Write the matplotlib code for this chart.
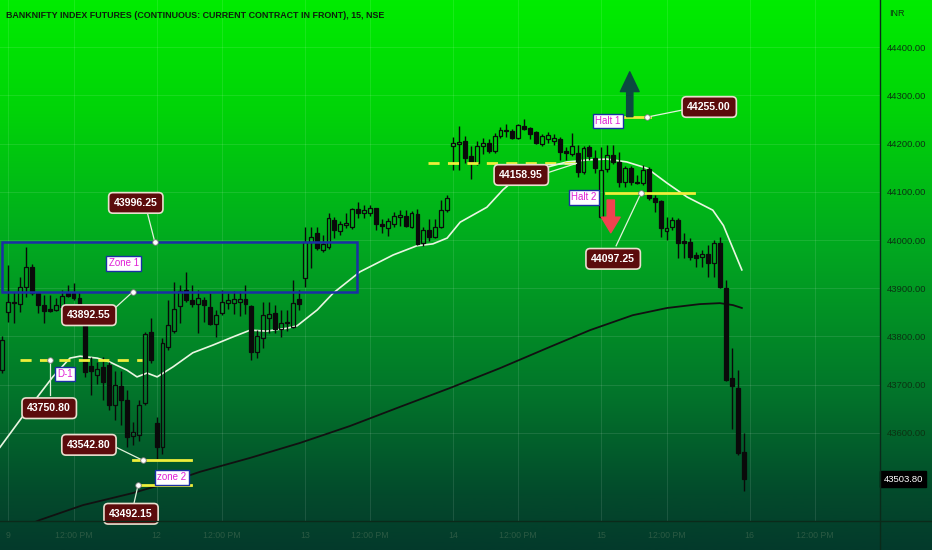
import matplotlib
matplotlib.use('Agg')
import matplotlib.pyplot as plt
from matplotlib.colors import LinearSegmentedColormap
from matplotlib.patches import Rectangle
import matplotlib.transforms as mtransforms
import numpy as np

title = 'BANKNIFTY INDEX FUTURES (CONTINUOUS: CURRENT CONTRACT IN FRONT), 15, NSE'

# 15 minute bars, bar 0 = 9th 09:15, 25 bars per session
first_bar = -1
opens = [43730, 43851, 43869, 43867, 43902, 43944, 43890, 43865, 43857, 43855,
         43861, 43890, 43890, 43880, 43828, 43738, 43720, 43736, 43740, 43658,
         43697, 43668, 43593, 43595, 43662, 43809, 43620, 43570, 43778, 43811,
         43863, 43896, 43876, 43867, 43876, 43861, 43826, 43849, 43869, 43869,
         43871, 43878, 43863, 43768, 43797, 43838, 43849, 43815, 43828, 43820,
         43878, 43921, 43996, 44015, 43979, 43985, 44042, 44019, 44031, 44027,
         44064, 44056, 44056, 44066, 44033, 44025, 44033, 44048, 44050, 44027,
         44054, 43994, 44021, 44006, 44027, 44062, 44195, 44199, 44205, 44174,
         44160, 44195, 44201, 44185, 44216, 44226, 44226, 44212, 44237, 44233,
         44224, 44199, 44210, 44205, 44210, 44185, 44178, 44180, 44141, 44193,
         44170, 44048, 44147, 44176, 44162, 44120, 44149, 44120, 44118, 44147,
         44087, 44081, 44019, 44027, 44042, 43998, 43996, 43969, 43965, 43971,
         43952, 43994, 43900, 43714, 43693, 43560]
highs = [43800, 43948, 43892, 43923, 43985, 43950, 43892, 43886, 43886, 43880,
         43896, 43907, 43911, 43892, 43835, 43757, 43746, 43757, 43747, 43728,
         43728, 43689, 43622, 43668, 43810, 43838, 43633, 43797, 43876, 43913,
         43907, 43934, 43907, 43896, 43882, 43890, 43855, 43896, 43890, 43894,
         43894, 43907, 43865, 43813, 43871, 43871, 43865, 43855, 43855, 43917,
         43896, 44027, 44027, 44027, 44010, 44056, 44048, 44040, 44056, 44066,
         44079, 44073, 44073, 44066, 44044, 44046, 44058, 44062, 44062, 44060,
         44064, 44027, 44044, 44044, 44083, 44093, 44214, 44237, 44216, 44195,
         44205, 44212, 44210, 44222, 44235, 44241, 44230, 44241, 44252, 44235,
         44226, 44220, 44224, 44220, 44214, 44193, 44222, 44197, 44195, 44197,
         44187, 44193, 44197, 44197, 44183, 44154, 44154, 44135, 44156, 44151,
         44093, 44083, 44048, 44048, 44046, 44015, 44004, 43975, 43979, 43990,
         44000, 44006, 43917, 43776, 43730, 43600]
lows = [43725, 43830, 43828, 43851, 43882, 43885, 43849, 43828, 43850, 43852,
        43849, 43882, 43876, 43830, 43716, 43678, 43701, 43668, 43647, 43626,
        43616, 43570, 43575, 43583, 43658, 43745, 43545, 43555, 43772, 43807,
        43828, 43871, 43861, 43807, 43830, 43824, 43799, 43844, 43857, 43846,
        43842, 43846, 43751, 43755, 43776, 43807, 43807, 43799, 43811, 43817,
        43855, 43902, 43942, 43979, 43975, 43981, 44004, 44010, 44025, 44023,
        44046, 44046, 44050, 44021, 44015, 44008, 44027, 44029, 44027, 44025,
        43990, 43988, 43998, 44004, 44025, 44058, 44145, 44145, 44160, 44126,
        44156, 44178, 44180, 44180, 44212, 44214, 44210, 44210, 44228, 44210,
        44199, 44195, 44201, 44197, 44166, 44166, 44174, 44131, 44137, 44166,
        44139, 44045, 44141, 44158, 44110, 44110, 44114, 44116, 44114, 44083,
        44058, 44006, 44000, 44021, 43963, 43963, 43958, 43944, 43944, 43923,
        43923, 43900, 43708, 43608, 43554, 43480]
closes = [43793, 43871, 43871, 43902, 43944, 43890, 43865, 43853, 43853, 43865,
          43884, 43884, 43880, 43838, 43726, 43728, 43732, 43705, 43658, 43699,
          43668, 43591, 43601, 43658, 43805, 43751, 43571, 43786, 43824, 43857,
          43894, 43876, 43867, 43880, 43865, 43826, 43844, 43871, 43876, 43878,
          43878, 43867, 43768, 43801, 43844, 43846, 43815, 43828, 43830, 43869,
          43867, 43996, 44006, 43983, 43992, 44046, 44021, 44033, 44035, 44064,
          44056, 44062, 44067, 44033, 44029, 44040, 44050, 44052, 44029, 44056,
          43992, 44021, 44006, 44027, 44062, 44087, 44201, 44203, 44170, 44160,
          44195, 44201, 44185, 44216, 44228, 44228, 44212, 44239, 44230, 44220,
          44201, 44216, 44218, 44212, 44183, 44180, 44195, 44141, 44191, 44174,
          44149, 44145, 44176, 44162, 44120, 44149, 44120, 44118, 44145, 44087,
          44079, 44025, 44025, 44042, 43994, 43994, 43965, 43963, 43971, 43952,
          43994, 43902, 43710, 43697, 43558, 43503.80]

# fast moving average (white) and slow moving average (black)
fast_ma_bar = [-1.4, 3.2, 7.5, 10.4, 12.1, 15.0, 17.1, 20.0, 21.7, 23.4, 25.1,
               27.8, 31.1, 34.5, 37.9, 40.8, 43.6, 47.0, 48.7, 52.1, 54.8, 59.3,
               64.9, 68.9, 71.6, 74.0, 76.2, 80.7, 83.4, 86.3, 90.8, 94.2, 97.6,
               100.9, 104.3, 107.7, 111.1, 114.5, 118.8, 120.6, 123.7]
fast_ma = [43570, 43647, 43716, 43755, 43759, 43755, 43747, 43730, 43716, 43724,
           43716, 43737, 43766, 43782, 43799, 43813, 43811, 43817, 43822, 43855,
           43890, 43934, 43969, 43988, 43992, 44004, 44037, 44068, 44104, 44135,
           44151, 44162, 44166, 44168, 44162, 44149, 44118, 44089, 44062, 44030,
           43938]
slow_ma_bar = [2.0, 5.3, 12.6, 21.0, 26.8, 32.3, 40.8, 49.2, 57.6, 66.1, 74.5,
               82.9, 91.3, 98.1, 105.3, 111.1, 116.6, 120.0, 122.2, 123.7]
slow_ma = [43402, 43419, 43450, 43475, 43496, 43519, 43548, 43579, 43614, 43654,
           43693, 43734, 43778, 43813, 43844, 43859, 43867, 43869, 43865, 43859]

x_ticks = [0, 11, 25, 36, 50, 61, 75, 86, 100, 111, 125, 136]
x_labels = ['9', '12:00 PM', '12', '12:00 PM', '13', '12:00 PM',
            '14', '12:00 PM', '15', '12:00 PM', '16', '12:00 PM']
y_ticks = [43600, 43700, 43800, 43900, 44000, 44100, 44200, 44300, 44400]
last_price = 43503.80

zone1 = (43892.55, 43996.25)
d1_level = 43750.80
zone2 = (43492.15, 43542.80)
mid_level = 44158.95
halt1 = 44255.00
halt2 = 44097.25

FONT = ['Liberation Sans', 'DejaVu Sans']
LABEL_BLUE = '#1b2fa5'
MAGENTA = '#e01fd6'
YELLOW = '#eeee3a'

fig = plt.figure(figsize=(9.32, 5.5), dpi=100)

# gradient background over the whole picture
bg = fig.add_axes([0, 0, 1, 1], zorder=0)
cm = LinearSegmentedColormap.from_list('bg', [(0.0, '#00ec00'), (0.2, '#00d408'),
                                              (0.45, '#01a820'), (0.7, '#02782a'),
                                              (0.9, '#034a2c'), (1.0, '#033a2b')])
bg.imshow(np.linspace(0, 1, 256).reshape(-1, 1), aspect='auto', cmap=cm,
          extent=[0, 1, 0, 1])
bg.set_axis_off()

ax = fig.add_axes([0, 29 / 550, 880 / 932, 521 / 550], zorder=1)
ax.set_facecolor('none')
ax.set_xlim(-1.40, 147.0)
ax.set_ylim(43417, 44498)
for s in ax.spines.values():
    s.set_visible(False)

ax.set_xticks(x_ticks)
ax.set_xticklabels(x_labels, family=FONT, fontsize=6.3, color='#2b5a43')
ax.set_yticks(y_ticks)
ax.set_yticklabels(['%.2f' % v for v in y_ticks], family=FONT, fontsize=6.8,
                   color='#0b3312')
ax.yaxis.tick_right()
ax.tick_params(axis='both', length=0)
ax.tick_params(axis='y', pad=5)
ax.tick_params(axis='x', pad=7)
ax.grid(True, color='white', alpha=0.10, lw=0.8)

# moving averages
ax.plot(fast_ma_bar, fast_ma, color='#eaf6e2', lw=1.2, zorder=2)
ax.plot(slow_ma_bar, slow_ma, color='#111111', lw=1.3, zorder=2)

# candles
bars = np.arange(first_bar, first_bar + len(opens))
body_w = 0.66
for b, o, h, l, c in zip(bars, opens, highs, lows, closes):
    top, bot = max(o, c), min(o, c)
    if top - bot < 2:
        top, bot = (top + bot) / 2 + 1, (top + bot) / 2 - 1
    ax.vlines(b, top, h, color='#0a0a0a', lw=1, zorder=3)
    ax.vlines(b, l, bot, color='#0a0a0a', lw=1, zorder=3)
    fc = 'none' if c >= o else '#0a0a0a'
    ax.add_patch(Rectangle((b - body_w / 2, bot), body_w, top - bot, fc=fc,
                           ec='#0a0a0a', lw=0.9, zorder=3))


def callout(text, x, y):
    ax.text(x, y, text, ha='center', va='center', fontsize=7.6, fontweight='bold',
            color='white', family=FONT, zorder=8,
            bbox=dict(boxstyle='round,pad=0.5,rounding_size=0.4', fc='#5b0c0c',
                      ec='#eadfcf', lw=1.2))


def tag(text, x, y):
    ax.text(x, y, text, ha='center', va='center', fontsize=7, color=MAGENTA,
            family=FONT, zorder=8,
            bbox=dict(boxstyle='square,pad=0.25', fc='white', ec=LABEL_BLUE, lw=1))


def stem(x0, y0, x1, y1):
    ax.plot([x0, x1], [y0, y1], color='#e2f2dc', lw=0.9, zorder=6)


def dot(x, y):
    ax.plot(x, y, 'o', ms=4, mfc='white', mec='#777777', mew=0.6, zorder=9)


# zone 1
ax.add_patch(Rectangle((-1.06, zone1[0]), 59.9, zone1[1] - zone1[0], fill=False,
                       ec=LABEL_BLUE, lw=1.8, zorder=5))
tag('Zone 1', 19.5, 43952)
stem(24.7, zone1[1], 23.5, 44054)
dot(24.7, zone1[1])
callout('43996.25', 21.5, 44077)
stem(21.0, zone1[0], 18.0, 43859)
dot(21.0, zone1[0])
callout('43892.55', 13.6, 43844)

# D-1
ax.plot([2.0, 22.5], [d1_level, d1_level], color=YELLOW, lw=2, ls=(0, (4, 3)), zorder=5)
stem(7.0, d1_level, 7.0, 43678)
dot(7.0, d1_level)
tag('D-1', 9.6, 43722)
callout('43750.80', 6.9, 43651)

# zone 2
ax.plot([21.0, 30.8], [zone2[1], zone2[1]], color=YELLOW, lw=2, zorder=5)
ax.plot([22.2, 30.8], [zone2[0], zone2[0]], color=YELLOW, lw=2, zorder=5)
stem(18.0, 43571, 22.7, zone2[1])
dot(22.7, zone2[1])
stem(21.9, zone2[0], 21.2, 43454)
dot(21.9, zone2[0])
tag('zone 2', 27.6, 43508)
callout('43542.80', 13.6, 43575)
callout('43492.15', 20.7, 43432)

# mid level
ax.plot([70.8, 96.0], [mid_level, mid_level], color=YELLOW, lw=2, ls=(0, (4, 3)), zorder=5)
stem(90.8, 44156, 95.5, mid_level)
stem(90.8, 44139, 95.8, mid_level)
callout('44158.95', 86.5, 44135)

# halt 1
ax.plot([101.8, 108.2], [halt1, halt1], color=YELLOW, lw=2, zorder=5)
ax.annotate('', xy=(104.8, 44349), xytext=(104.8, 44256), zorder=7,
            arrowprops=dict(arrowstyle='simple,head_length=0.95,head_width=0.9,tail_width=0.3',
                            mutation_scale=15, color='#0b4a40', shrinkA=0, shrinkB=0))
stem(107.7, halt1, 113.8, 44270)
dot(107.7, halt1)
tag('Halt 1', 101.1, 44247)
callout('44255.00', 118.2, 44276)

# halt 2
ax.plot([100.8, 115.6], [halt2, halt2], color=YELLOW, lw=2, zorder=5)
ax.annotate('', xy=(101.6, 44015), xytext=(101.6, 44083), zorder=7,
            arrowprops=dict(arrowstyle='simple,head_length=0.75,head_width=0.9,tail_width=0.35',
                            mutation_scale=15, color='#f0424f', shrinkA=0, shrinkB=0))
stem(106.7, halt2, 102.5, 43988)
dot(106.7, halt2)
tag('Halt 2', 97.1, 44089)
callout('44097.25', 102.0, 43961)

# last price on the scale
trans = mtransforms.blended_transform_factory(ax.transAxes, ax.transData)
ax.text(1.004, last_price, '%.2f' % last_price, transform=trans, ha='left', va='center',
        fontsize=6.8, color='white', family=FONT, zorder=9,
        bbox=dict(boxstyle='square,pad=0.35', fc='black', ec='black'))

# scale separators
fig.add_artist(plt.Line2D([880 / 932, 880 / 932], [0, 1], color='#0b2a1a', lw=1))
fig.add_artist(plt.Line2D([0, 1], [29 / 550, 29 / 550], color='#0b2a1a', lw=1))

fig.text(6 / 932, 1 - 15 / 550, title, family=FONT, fontsize=6.4, fontweight='bold',
         color='#0d1f0d', va='center', ha='left')
fig.text(889 / 932, 1 - 14 / 550, 'INR', family=FONT, fontsize=6.5, color='#0b3312',
         va='center', ha='left')

fig.savefig('out.png', dpi=100)
